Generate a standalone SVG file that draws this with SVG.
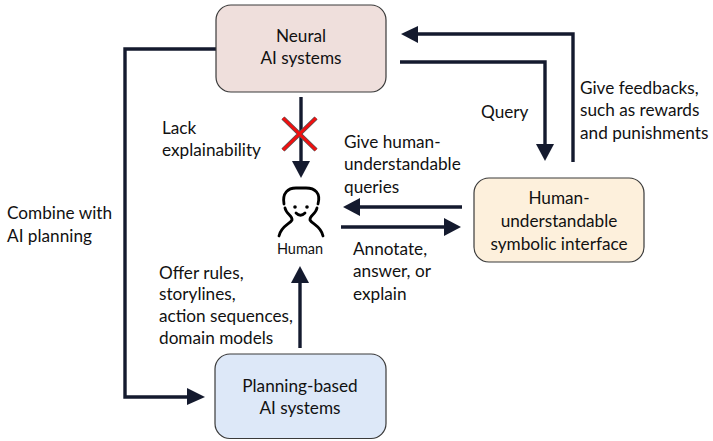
<svg xmlns="http://www.w3.org/2000/svg" width="713" height="441" viewBox="0 0 713 441">
<style>
text{font-family:"Lato","Carlito","Open Sans",sans-serif;font-size:17.2px;fill:#111}
.m{text-anchor:middle}
.box{stroke:#3a3a3a;stroke-width:1.2}
.c{fill:none;stroke:#141a2e;stroke-width:3.4}
.h{fill:#141a2e;stroke:none}
.f{fill:none;stroke:#000;stroke-width:2.8;stroke-linecap:round}
</style>
<rect width="713" height="441" fill="#fff"/>
<g id="connectors">
<path class="c" d="M216 49H125V397H196"/><path class="h" d="M187 388L205 397L187 405Z"/>
<path class="c" d="M400 62H545V146"/><path class="h" d="M536 144L545 161L554 144Z"/>
<path class="c" d="M573 162V34H414"/><path class="h" d="M418 26L401 34L418 43Z"/>
<path class="c" d="M301 97V164"/><path class="h" d="M292 161L301 178L310 161Z"/>
<path class="c" d="M462 207H356"/><path class="h" d="M360 198L343 207L360 216Z"/>
<path class="c" d="M341 227H446"/><path class="h" d="M444 218L461 227L444 236Z"/>
<path class="c" d="M300 348V280"/><path class="h" d="M291 283L300 266L309 283Z"/>
</g>
<g id="cross"><path d="M283 118L316 150M316 118L283 150" fill="none" stroke="#555" stroke-width="4.500"/><path d="M283 118L316 150M316 118L283 150" fill="none" stroke="#f01010" stroke-width="3"/></g>
<g id="neural"><rect class="box" x="216" y="5" width="170" height="87" rx="15" fill="#efdfdc"/><text class="m" x="301" y="42">Neural</text><text class="m" x="301" y="64">AI systems</text></g>
<g id="planning"><rect class="box" x="215" y="354" width="171" height="84.500" rx="15" fill="#dde8f8"/><text class="m" x="300" y="392">Planning-based</text><text class="m" x="300" y="414">AI systems</text></g>
<g id="interface"><rect class="box" x="474" y="178" width="170" height="84" rx="15" fill="#fdf0dc"/><text class="m" x="559" y="204">Human-</text><text class="m" x="559" y="227">understandable</text><text class="m" x="559" y="250">symbolic interface</text></g>
<g id="human">
<path class="f" d="M284 204C282 193 288 188 296 188H306C315 188 321 193 318 204M285 208C286 214 293 216 292 220C290 224 281 226 279 236M317 208C316 214 309 216 310 220C312 224 321 226 323 236"/>
<circle cx="295" cy="207" r="1.800"/><circle cx="307" cy="207" r="1.800"/>
<path class="f" d="M296 213C299 216 302 216 305 213"/>
<text class="m" x="300" y="254" style="font-size:14.500px">Human</text>
</g>
<g id="labels">
<text x="162" y="134">Lack</text><text x="162" y="156">explainability</text>
<text x="344" y="148">Give human-</text><text x="344" y="170">understandable</text><text x="344" y="193">queries</text>
<text x="481" y="118">Query</text>
<text x="580" y="94">Give feedbacks,</text><text x="580" y="116">such as rewards</text><text x="580" y="139">and punishments</text>
<text x="7" y="219">Combine with</text><text x="7" y="242">AI planning</text>
<text x="353" y="255">Annotate,</text><text x="353" y="277">answer, or</text><text x="353" y="300">explain</text>
<text x="159" y="279">Offer rules,</text><text x="159" y="300">storylines,</text><text x="159" y="322">action sequences,</text><text x="159" y="344">domain models</text>
</g>
</svg>
